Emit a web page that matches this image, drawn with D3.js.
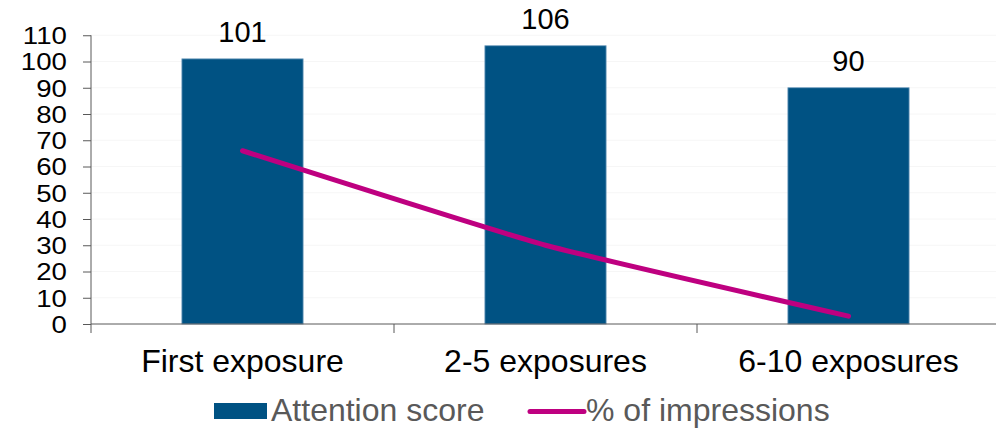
<!DOCTYPE html>
<html>
<head>
<meta charset="utf-8">
<script src="https://cdn.jsdelivr.net/npm/d3@7"></script>
<style>
  html, body { margin: 0; padding: 0; background: #fff; }
  svg { display: block; font-family: "Liberation Sans", Arial, sans-serif; }
</style>
</head>
<body>
<svg id="chart" width="996" height="429"></svg>
<script>
const categories = ["First exposure", "2-5 exposures", "6-10 exposures"];
const attentionScore = [101, 106, 90];
const impressionsPct = [66, 30, 3];
const yTicks = [0, 10, 20, 30, 40, 50, 60, 70, 80, 90, 100, 110];
const legendLabels = ["Attention score", "% of impressions"];

const barColor = "#005283";
const lineColor = "#BE0080";

const svg = d3.select("#chart");
const W = 996;

const x = d3.scaleBand().domain(categories).range([91, 1000]).padding(0);
const y = d3.scaleLinear().domain([0, 110]).range([324, 35.25]);

// gridlines
svg.append("g").selectAll("line").data(yTicks.filter(d => d > 0)).join("line")
  .attr("x1", 91).attr("x2", W)
  .attr("y1", d => y(d)).attr("y2", d => y(d))
  .attr("stroke", "#f6f6f6").attr("stroke-width", 1);

// bars
const bw = x.bandwidth() * 0.4;
svg.append("g").selectAll("rect").data(categories).join("rect")
  .attr("x", (d) => x(d) + (x.bandwidth() - bw) / 2)
  .attr("y", (d, i) => y(attentionScore[i]))
  .attr("width", bw)
  .attr("height", (d, i) => y(0) - y(attentionScore[i]))
  .attr("fill", barColor)
  .attr("stroke", "#6f9cbd").attr("stroke-width", 0.8);

// bar labels
svg.append("g").selectAll("text").data(categories).join("text")
  .attr("x", d => x(d) + x.bandwidth() / 2)
  .attr("y", (d, i) => y(attentionScore[i]) - 17)
  .attr("text-anchor", "middle")
  .attr("font-size", 29)
  .attr("fill", "#000")
  .text((d, i) => attentionScore[i]);

// y axis
const yAxis = d3.axisLeft(y).tickValues(yTicks).tickSize(8).tickPadding(0);
const gy = svg.append("g").attr("transform", "translate(91,0)").call(yAxis);
gy.select(".domain").remove();
gy.selectAll(".tick line").attr("stroke", "#595959");
gy.selectAll(".tick text")
  .attr("font-size", 24)
  .attr("font-family", "Liberation Sans, Arial, sans-serif")
  .attr("fill", "#000")
  .attr("x", -21)
  .attr("dy", "0.35em")
  .attr("transform", "scale(1.15,1)");
svg.append("line").attr("x1", 91).attr("x2", 91).attr("y1", y(110)).attr("y2", 333)
  .attr("stroke", "#595959").attr("stroke-width", 1);

// x axis
const xAxis = d3.axisBottom(x).tickSize(0).tickPadding(0).tickFormat("");
const gx = svg.append("g").attr("transform", `translate(0,${y(0)})`).call(xAxis);
gx.select(".domain").remove();
svg.append("line").attr("x1", 91).attr("x2", W).attr("y1", y(0)).attr("y2", y(0))
  .attr("stroke", "#595959").attr("stroke-width", 1);
svg.append("g").selectAll("line").data(categories.slice(1)).join("line")
  .attr("x1", d => x(d)).attr("x2", d => x(d))
  .attr("y1", y(0)).attr("y2", 333)
  .attr("stroke", "#595959");

// category labels
svg.append("g").selectAll("text").data(categories).join("text")
  .attr("x", d => x(d) + x.bandwidth() / 2)
  .attr("y", 372)
  .attr("text-anchor", "middle")
  .attr("font-size", 32)
  .attr("fill", "#000")
  .text(d => d);

// line
const line = d3.line()
  .x((d, i) => x(categories[i]) + x.bandwidth() / 2)
  .y(d => y(d))
  .curve(d3.curveCardinal.tension(0.6));
svg.append("path").datum(impressionsPct)
  .attr("d", line)
  .attr("fill", "none")
  .attr("stroke", lineColor)
  .attr("stroke-width", 5)
  .attr("stroke-linecap", "round");

// legend
const lg = svg.append("g");
lg.append("rect").attr("x", 214).attr("y", 403).attr("width", 53).attr("height", 16).attr("fill", barColor);
lg.append("text").attr("x", 271).attr("y", 421).attr("font-size", 32).attr("fill", "#595959").text(legendLabels[0]);
lg.append("line").attr("x1", 530).attr("x2", 584).attr("y1", 411.5).attr("y2", 411.5)
  .attr("stroke", lineColor).attr("stroke-width", 5).attr("stroke-linecap", "round");
lg.append("text").attr("x", 586).attr("y", 421).attr("font-size", 32).attr("fill", "#595959").text(legendLabels[1]);
</script>
</body>
</html>
